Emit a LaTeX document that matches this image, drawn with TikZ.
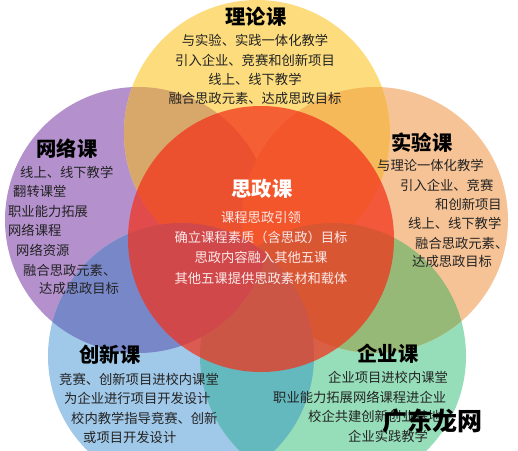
\documentclass[tikz,border=0pt]{standalone}
\usepackage{fontspec}
\usepackage{pdfrender}
\setmainfont{Noto Sans CJK SC}
\definecolor{cyel}{RGB}{252,220,125}
\definecolor{cpea}{RGB}{245,195,150}
\definecolor{cgrn}{RGB}{150,222,185}
\definecolor{cblu}{RGB}{160,200,232}
\definecolor{cpur}{RGB}{180,145,205}
\definecolor{cyp}{RGB}{215,168,105}
\definecolor{cype}{RGB}{245,185,90}
\definecolor{cpg}{RGB}{150,185,120}
\definecolor{cgb}{RGB}{100,185,190}
\definecolor{cbu}{RGB}{120,135,200}
\definecolor{cred}{RGB}{243,48,25}
\definecolor{txtgray}{RGB}{35,35,35}
\definecolor{pinkw}{RGB}{252,232,232}
\tikzset{
  txt/.style={inner sep=0pt, text height=0.88em, text depth=0.12em, font=\fontsize{13.3}{16}\selectfont, text=txtgray},
  ttl/.style={inner sep=0pt, text height=0.88em, text depth=0.12em, font=\fontsize{20.3}{24}\selectfont\bfseries, text=black},
  wtxt/.style={txt, text=pinkw},
  wttl/.style={ttl, text=white},
  lt/.style={txt, anchor=west},
  wm/.style={inner sep=0pt, font=\fontsize{25}{28}\selectfont\bfseries},
}
\begin{document}
\begin{tikzpicture}[x=1pt,y=-1pt]
\useasboundingbox (0,0) rectangle (518,450);
\fill[white] (0,0) rectangle (518,450);
\coordinate (Y) at (257,133);
\coordinate (P) at (375,220);
\coordinate (G) at (333,356);
\coordinate (B) at (181,356);
\coordinate (U) at (138,220);
\coordinate (C) at (261,239);
\def\R{133pt}
% single circles
\fill[cpur] (U) circle[radius=\R];
\fill[cblu] (B) circle[radius=\R];
\fill[cgrn] (G) circle[radius=\R];
\fill[cpea] (P) circle[radius=\R];
\fill[cyel] (Y) circle[radius=\R];
% adjacent overlaps
\begin{scope}\clip (Y) circle[radius=\R]; \fill[cyp] (U) circle[radius=\R];\end{scope}
\begin{scope}\clip (Y) circle[radius=\R]; \fill[cype] (P) circle[radius=\R];\end{scope}
\begin{scope}\clip (P) circle[radius=\R]; \fill[cpg] (G) circle[radius=\R];\end{scope}
\begin{scope}\clip (G) circle[radius=\R]; \fill[cgb] (B) circle[radius=\R];\end{scope}
\begin{scope}\clip (B) circle[radius=\R]; \fill[cbu] (U) circle[radius=\R];\end{scope}
% centre circle
\fill[cred, fill opacity=0.72] (C) circle[radius=\R];

% 理论课
\node[ttl] (t1) at (256,21) {理论课};
\node[txt] (t1a) at (255,42) {与实验、实践一体化教学};
\node[txt] (t1b) at (255,62) {引入企业、竞赛和创新项目};
\node[txt] (t1c) at (255,81) {线上、线下教学};
\node[txt] (t1d) at (255,100) {融合思政元素、达成思政目标};

% 网络课
\node[ttl] (t2) at (67,153) {网络课};
\node[lt] (t2a) at (20,174) {线上、线下教学};
\node[lt] (t2b) at (13,193) {翻转课堂};
\node[lt] (t2c) at (8,213) {职业能力拓展};
\node[lt] (t2d) at (8,232) {网络课程};
\node[lt] (t2e) at (16,252) {网络资源};
\node[lt] (t2f) at (23,272) {融合思政元素、};
\node[lt] (t2g) at (39,290) {达成思政目标};

% 实验课
\node[ttl] (t3) at (422,147) {实验课};
\node[lt] (t3a) at (377,167) {与理论一体化教学};
\node[lt] (t3b) at (400,187) {引入企业、竞赛};
\node[lt] (t3c) at (435,206) {和创新项目};
\node[lt] (t3d) at (408,225) {线上、线下教学};
\node[lt] (t3e) at (415,245) {融合思政元素、};
\node[lt] (t3f) at (412,263) {达成思政目标};

% 思政课
\node[wttl] (t0) at (262,193) {思政课};
\node[wtxt] (t0a) at (261,219) {课程思政引领};
\node[wtxt] (t0b) at (261,239) {确立课程素质（含思政）目标};
\node[wtxt] (t0c) at (261,259) {思政内容融入其他五课};
\node[wtxt] (t0d) at (261,280) {其他五课提供思政素材和载体};

% 创新课
\node[ttl] (t4) at (110,359) {创新课};
\node[lt] (t4a) at (59,381) {竞赛、创新项目进校内课堂};
\node[lt] (t4b) at (64,400) {为企业进行项目开发设计};
\node[lt] (t4c) at (71,420) {校内教学指导竞赛、创新};
\node[lt] (t4d) at (83,439) {或项目开发设计};

% 企业课
\node[ttl] (t5) at (388,358) {企业课};
\node[lt] (t5a) at (328,379) {企业项目进校内课堂};
\node[lt] (t5b) at (273,399) {职业能力拓展网络课程进企业};
\node[lt] (t5c) at (308,418) {校企共建创新创业基地};
\node[lt] (t5d) at (348,438) {企业实践教学};

% watermark
\node[wm] (wmark) at (432,421) {\textpdfrender{TextRenderingMode=FillStroke,LineWidth=2,StrokeColor=black,FillColor=white}{广东龙网}};
\end{tikzpicture}
\end{document}
